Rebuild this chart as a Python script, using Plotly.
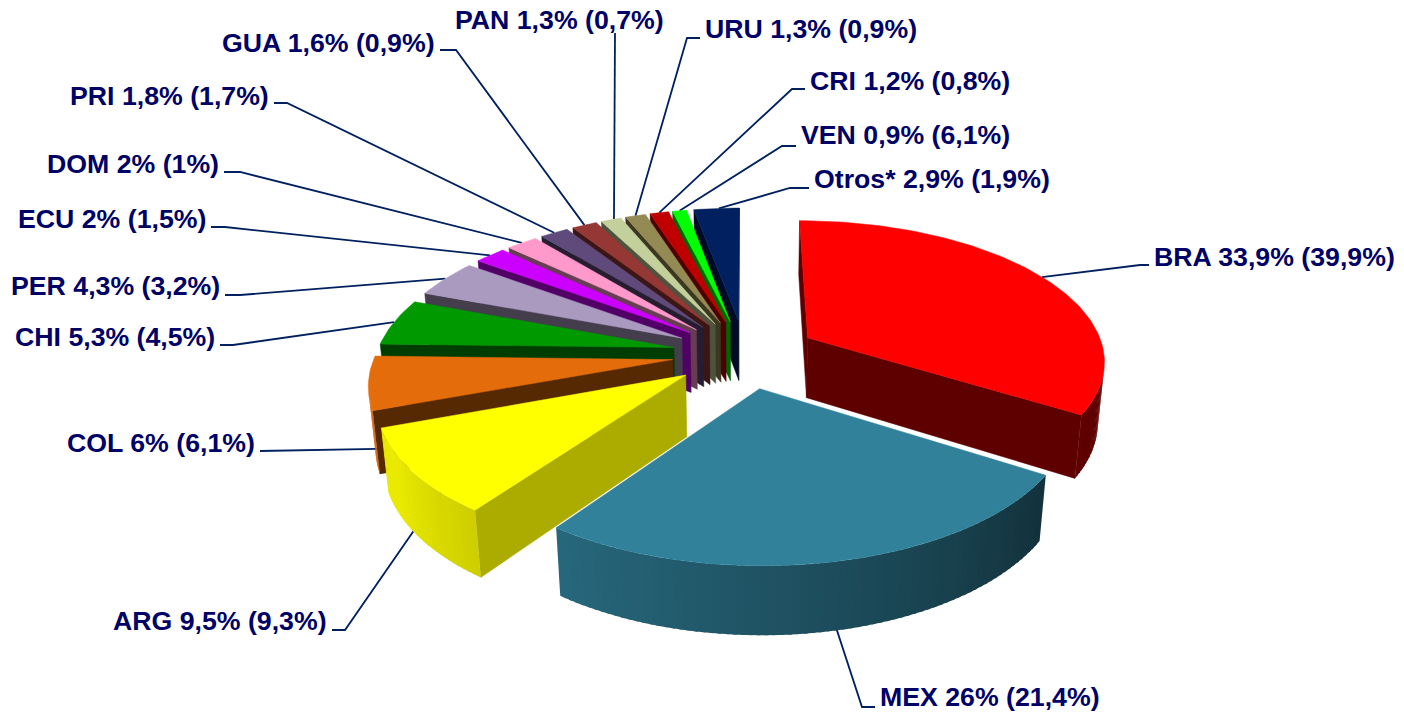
import math
import plotly.graph_objects as go

# ---------- data ----------
codes = ["BRA", "MEX", "ARG", "COL", "CHI", "PER", "ECU", "DOM", "PRI", "GUA", "PAN", "URU", "CRI", "VEN", "Otros*"]
share = [33.9, 26, 9.5, 6, 5.3, 4.3, 2, 2, 1.8, 1.6, 1.3, 1.3, 1.2, 0.9, 2.9]
prev = [39.9, 21.4, 9.3, 6.1, 4.5, 3.2, 1.5, 1, 1.7, 0.9, 0.7, 0.9, 0.8, 6.1, 1.9]

# ---------- style ----------
top_colors = ["#FF0000", "#31819B", "#FFFF00", "#E46C0A", "#009900", "#AB9AC0", "#CC00FF", "#FF99CC",
              "#604A7B", "#953735", "#C3D09B", "#948A54", "#C00000", "#00FF00", "#002060"]
wall_shade = [0.375, 0.4, 0.675, 0.38, 0.4, 0.4, 0.4, 0.4, 0.4, 0.4, 0.4, 0.4, 0.4, 0.4, 0.4]
explode = [0.245] * 15
INK = "#002060"
TEXT = "#000066"
FONT = "Liberation Sans"
FS = 26.7

# label placement: anchor x, text centre y, side, knee x, knee y
label_pos = [
    (1152, 257, "left", 1140, 265), (878, 697, "left", 862, 707), (329, 621, "right", 345, 630),
    (257, 443, "right", 273, 451), (217, 337, "right", 233, 345), (222, 286, "right", 240, 295),
    (208, 219, "right", 225, 227), (221, 164, "right", 240, 172), (271, 96, "right", 287, 103),
    (437, 43, "right", 456, 50), (559, 20, "center", 615, 33), (703, 29, "left", 687, 38),
    (808, 81, "left", 792, 89), (799, 135, "left", 782, 146), (812, 179, "left", 790, 188),
]
# where each leader meets its slice: fraction along the arc, fraction down the wall
leader_at = [(0.5, 0), (0.53, 0), (0.25, 0), (0.0, 0.6), (0.5, 0), (0.5, 0), (0.5, 0), (0.5, 0),
             (0.5, 0), (0.5, 0), (0.65, 0), (0.5, 0), (0.5, 0), (0.5, 0), (0.55, 0)]

# ---------- projection of an exploded, tilted pie ----------
CX, CY = 745, 354
TILT = math.radians(27.9)
D = 5.91
F = 1757
H = 0.235
CAM = (0.0, -D * math.cos(TILT), D * math.sin(TILT))


def proj(x, y, z):
    depth = D + y * math.cos(TILT) - z * math.sin(TILT)
    return (CX + F * x / depth, CY - F * (z * math.cos(TILT) + y * math.sin(TILT)) / depth)


def facing(nx, ny, px, py, pz):
    return nx * (CAM[0] - px) + ny * (CAM[1] - py) > 0


def shade(color, k):
    r, g, b = (int(color[i:i + 2], 16) for i in (1, 3, 5))
    return "rgb(%d,%d,%d)" % (r * k, g * k, b * k)


fig = go.Figure()


def poly(points, color, lw=0.0):
    xs = [p[0] for p in points] + [points[0][0]]
    ys = [p[1] for p in points] + [points[0][1]]
    fig.add_trace(go.Scatter(x=xs, y=ys, mode="lines", fill="toself", fillcolor=color,
                             line=dict(color=color, width=lw), hoverinfo="skip", showlegend=False))


total = sum(share)
starts = []
acc = 0.0
for s in share:
    starts.append(acc)
    acc += s / total * 2 * math.pi


def geom(i):
    a0 = starts[i]
    a1 = a0 + share[i] / total * 2 * math.pi
    mid = (a0 + a1) / 2
    ox, oy = explode[i] * math.sin(mid), explode[i] * math.cos(mid)
    return a0, a1, mid, ox, oy


# leader lines sit beneath the slices
for i in range(len(share)):
    a0, a1, mid, ox, oy = geom(i)
    fa, fz = leader_at[i]
    at = a0 + (a1 - a0) * fa
    sx, sy = proj(ox + math.sin(at), oy + math.cos(at), -H * fz)
    ax, ay, side, kx, ky = label_pos[i]
    xs = [sx, kx]
    ys = [sy, ky]
    if side != "center":
        xs.append(ax + (-3 if side == "left" else 3))
        ys.append(ky)
    fig.add_trace(go.Scatter(x=xs, y=ys, mode="lines", line=dict(color=INK, width=1.8),
                             hoverinfo="skip", showlegend=False))

# painter's order: back slices first, then forward; only camera-facing walls are drawn
order = list(range(14, 1, -1)) + [0, 1]
for i in order:
    a0, a1, mid, ox, oy = geom(i)
    col = top_colors[i]
    n = max(3, int((a1 - a0) / math.radians(1.25)))
    ang = [a0 + (a1 - a0) * k / n for k in range(n + 1)]
    rim = lambda a, z: proj(ox + math.sin(a), oy + math.cos(a), z)
    apex = lambda z: proj(ox, oy, z)
    if facing(-math.cos(a0), math.sin(a0), ox, oy, 0):
        poly([apex(0), rim(a0, 0), rim(a0, -H), apex(-H)], shade(col, wall_shade[i]), 0.5)
    if facing(math.cos(a1), -math.sin(a1), ox, oy, 0):
        poly([apex(0), rim(a1, 0), rim(a1, -H), apex(-H)], shade(col, wall_shade[i]), 0.5)
    for k in range(n):
        am = (ang[k] + ang[k + 1]) / 2
        if not facing(math.sin(am), math.cos(am), ox + math.sin(am), oy + math.cos(am), 0):
            continue
        deg = math.degrees(am)
        kv = min(0.92, max(0.375, 0.4 + (deg - 125) * 0.0045))
        # each strip runs a little under the next one so no seams show
        end = min(a1, ang[k + 1] + (a1 - a0) / n * 0.5)
        poly([rim(ang[k], 0), rim(end, 0), rim(end, -H), rim(ang[k], -H)], shade(col, kv))
    poly([apex(0)] + [rim(a, 0) for a in ang], col, 0.5)

anns = []
for i, c in enumerate(codes):
    ax, ay, side, _, _ = label_pos[i]
    txt = f"{c} {share[i]:g}% ({prev[i]:g}%)".replace(".", ",")
    anns.append(dict(x=ax, y=ay, xref="x", yref="y", text=f"<b>{txt}</b>", showarrow=False,
                     xanchor=side, yanchor="middle", font=dict(family=FONT, size=FS, color=TEXT)))

fig.update_layout(
    width=1404, height=712, margin=dict(l=0, r=0, t=0, b=0),
    paper_bgcolor="white", plot_bgcolor="white", annotations=anns, showlegend=False,
    xaxis=dict(range=[0, 1404], visible=False, fixedrange=True),
    yaxis=dict(range=[712, 0], visible=False, fixedrange=True),
)
fig.write_html("out.html", config={"displayModeBar": False},
               post_script="document.body.style.margin='0';document.documentElement.style.overflow='hidden';")
